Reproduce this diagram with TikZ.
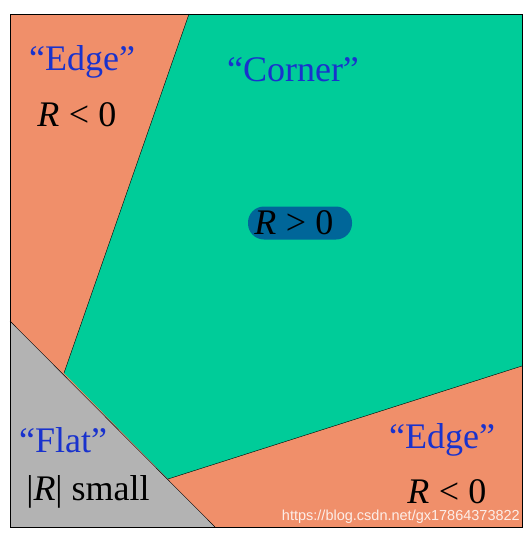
\documentclass[tikz,border=0pt]{standalone}
\usepackage{fontspec}
\setmainfont{Liberation Serif}
\newfontfamily\markfont{Liberation Sans}

\definecolor{edgeorange}{RGB}{240,143,106}
\definecolor{cornergreen}{RGB}{0,204,153}
\definecolor{flatgray}{RGB}{179,179,179}
\definecolor{pillblue}{RGB}{0,102,153}
\definecolor{quoteblue}{RGB}{25,50,205}

\newcommand{\relgap}{\hspace{0.26em}}

\tikzset{
  quoted/.style={text=quoteblue, font=\fontsize{36}{42}\selectfont, inner sep=0pt},
  cond/.style={text=black, font=\fontsize{36}{42}\selectfont, inner sep=0pt},
  pill/.style={fill=pillblue, rounded corners=16pt, minimum width=104pt, minimum height=33pt, inner sep=0pt},
}

\begin{document}
\begin{tikzpicture}[x=1pt, y=-1pt]
  \useasboundingbox (0,0) rectangle (531,538);

  % corners of the frame and the meeting points of the boundaries
  \coordinate (tl) at (10,14);
  \coordinate (br) at (522,527);
  \coordinate (edgetop) at (189,14);
  \coordinate (edgemeet) at (64,373);
  \coordinate (flatleft) at (10,321);
  \coordinate (flatbottom) at (215,527);
  \coordinate (cornermeet) at (168,479);
  \coordinate (edgeright) at (522,366);

  % ====== regions ======
  \fill[edgeorange] (tl) rectangle (br);
  \fill[cornergreen] (edgetop) -- (522,14) -- (edgeright) -- (cornermeet) -- (edgemeet) -- cycle;
  \fill[flatgray] (flatleft) -- (10,527) -- (flatbottom) -- cycle;

  % ====== boundaries ======
  \draw[thin] (edgetop) -- (edgemeet);
  \draw[thin] (flatleft) -- (flatbottom);
  \draw[thin] (cornermeet) -- (edgeright);
  \draw[thin] (tl) rectangle (br);

  % ====== labels ======
  \node[quoted] (edgeA) at (82,62) {“Edge”};
  \node[cond] (edgeAR) at (77,115) {\textit{R}\relgap<\relgap0};
  \node[quoted] (corner) at (293,70) {“Corner”};
  \node[pill] (cornerpill) at (300,223) {};
  \node[cond] (cornerR) at (294,223) {\textit{R}\relgap>\relgap0};
  \node[quoted] (flat) at (63,440) {“Flat”};
  \node[cond] (flatR) at (88,492) {|\textit{R}| small};
  \node[quoted] (edgeB) at (442,440) {“Edge”};
  \node[cond] (edgeBR) at (447,492) {\textit{R}\relgap<\relgap0};

  \node[anchor=south east, inner sep=0pt, text=white, opacity=0.85,
        font=\markfont\fontsize{14.5}{16}\selectfont] (mark) at (520,524)
        {https://blog.csdn.net/gx17864373822};
\end{tikzpicture}
\end{document}
